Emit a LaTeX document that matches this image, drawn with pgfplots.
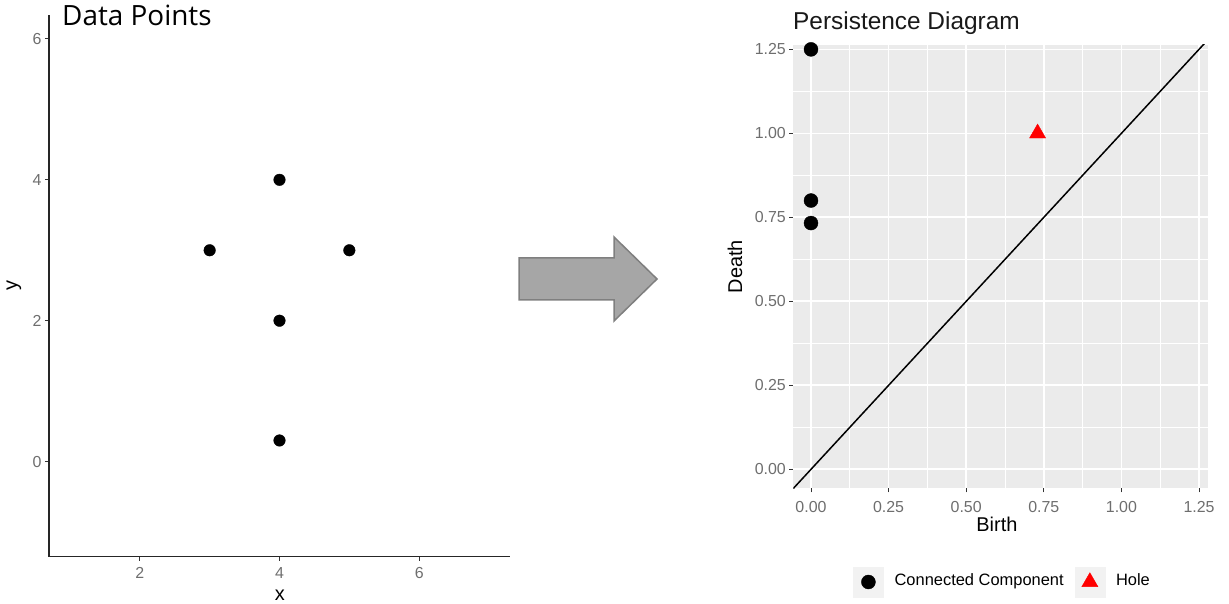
\documentclass[border=0pt]{standalone}
\usepackage{fontspec}
\setmainfont{Liberation Sans}
\newfontfamily\titlefont{Open Sans}
\usepackage{pgfplots}
\pgfplotsset{compat=1.18}

\definecolor{panelbg}{HTML}{EBEBEB}
\definecolor{keybg}{HTML}{F2F2F2}
\definecolor{ticklab}{HTML}{6E6E6E}
\definecolor{tickcol}{HTML}{333333}
\definecolor{arrowfill}{HTML}{A6A6A6}
\definecolor{arrowline}{HTML}{7F7F7F}

\begin{document}
\begin{tikzpicture}
\useasboundingbox (0bp,0bp) rectangle (1229bp,604bp);

% ---------------- point cloud ----------------
\begin{axis}[
  at={(49bp,47.3bp)}, anchor=south west,
  scale only axis, width=461bp, height=541.7bp,
  xmin=0.7, xmax=7.3, ymin=-1.35, ymax=6.34,
  axis x line*=bottom, axis y line*=left,
  axis line style={-, line width=1.2bp, draw=black!85},
  xtick={2,4,6}, ytick={0,2,4,6},
  tick align=outside, major tick length=4bp,
  tick style={line width=1bp, color=tickcol},
  ticklabel style={font=\fontsize{16}{18}\selectfont, text=ticklab},
  xticklabel style={/tikz/yshift=-3bp},
  /pgf/number format/assume math mode=true,
  xlabel={x}, ylabel={y},
  label style={font=\fontsize{20}{24}\selectfont},
  xlabel style={at={(axis description cs:0.501,-0.0707)}, anchor=center},
  ylabel style={at={(axis description cs:-0.076,0.5)}, anchor=center},
]
\addplot[only marks, mark=*, mark size=5.8bp, black]
  coordinates {(3,3) (4,4) (5,3) (4,2) (4,0.3)};
\end{axis}

% ---------------- arrow ----------------
\filldraw[fill=arrowfill, draw=arrowline, line width=1.5bp]
  (519bp,346bp) -- (614bp,346bp) -- (614bp,367bp) -- (657bp,325bp)
  -- (614bp,283bp) -- (614bp,304bp) -- (519bp,304bp) -- cycle;

% ---------------- persistence diagram ----------------
\begin{axis}[
  at={(793.3bp,115.7bp)}, anchor=south west,
  scale only axis, width=414.7bp, height=443.3bp,
  xmin=-0.057, xmax=1.279, ymin=-0.0565, ymax=1.263,
  axis background/.style={fill=panelbg},
  axis x line*=bottom, axis y line*=left,
  axis line style={draw=none},
  xtick={0,0.25,0.5,0.75,1,1.25}, ytick={0,0.25,0.5,0.75,1,1.25},
  minor xtick={0.125,0.375,0.625,0.875,1.125},
  minor ytick={0.125,0.375,0.625,0.875,1.125},
  grid=both,
  major grid style={white, line width=1.7bp},
  minor grid style={white, line width=0.9bp},
  tick align=outside, major tick length=4bp, minor tick length=0pt,
  tick style={line width=1bp, color=tickcol},
  ticklabel style={font=\fontsize{16}{18}\selectfont, text=ticklab},
  xticklabel style={/tikz/yshift=-6bp},
  /pgf/number format/fixed,
  /pgf/number format/fixed zerofill,
  /pgf/number format/precision=2,
  /pgf/number format/assume math mode=true,
  xlabel={Birth}, ylabel={Death},
  label style={font=\fontsize{20}{24}\selectfont},
  xlabel style={at={(axis description cs:0.491,-0.0805)}, anchor=center},
  ylabel style={at={(axis description cs:-0.1406,0.5)}, anchor=center},
  legend style={at={(axis description cs:0.144,-0.2114)}, anchor=west,
    draw=none, fill=none, inner sep=0pt, column sep=11bp,
    font=\fontsize{16.5}{19}\selectfont, nodes={inner sep=0pt}},
  legend columns=2, legend cell align=left,
  legend image code/.code={
    \fill[keybg] (0bp,-16.5bp) rectangle (30bp,13.5bp);
    \draw[#1] plot coordinates {(15bp,-1.5bp)};
  },
]
\addplot[black, line width=1.5bp, forget plot]
  coordinates {(-0.1,-0.1) (1.3,1.3)};
\addplot[only marks, mark=*, mark size=7bp, black]
  coordinates {(0,1.25) (0,0.8) (0,0.733)};
\addlegendentry{Connected Component}
\addplot[only marks, mark=triangle*, mark size=9.3bp, red]
  coordinates {(0.73,1.0)};
\addlegendentry{Hole}
\end{axis}

\node[anchor=base west, inner sep=0pt, font=\titlefont\fontsize{28}{32}\selectfont]
  at (62bp,578bp) {Data Points};
\node[anchor=base west, inner sep=0pt, text=black!90, font=\fontsize{24.5}{28}\selectfont]
  at (793bp,574bp) {Persistence Diagram};

% image border on the right
\fill[white] (1216bp,0bp) rectangle (1229bp,604bp);
\end{tikzpicture}
\end{document}
